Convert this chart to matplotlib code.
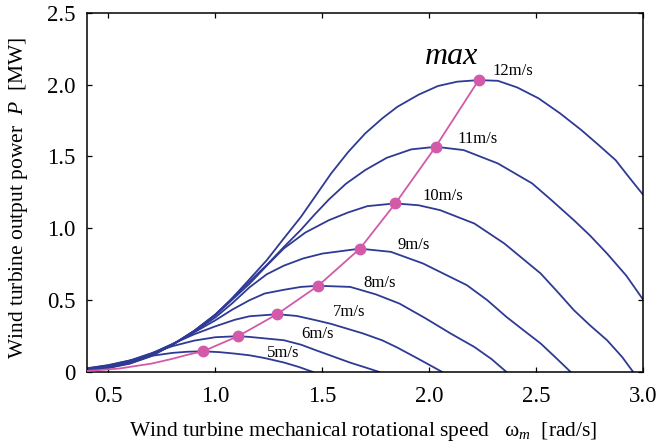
"""Wind turbine power curves P(omega_m) for 5-12 m/s with the max-power locus."""

import matplotlib

matplotlib.use("Agg")

import matplotlib.pyplot as plt

plt.rcParams["font.family"] = ["Liberation Serif", "DejaVu Serif"]
plt.rcParams["mathtext.fontset"] = "custom"
plt.rcParams["mathtext.rm"] = "Liberation Serif"
plt.rcParams["mathtext.it"] = "Liberation Serif:italic"

# values (omega_m in rad/s, P in MW)
omega_5 = [0.40, 0.50, 0.60, 0.70, 0.80, 0.87, 0.942, 1.02, 1.09, 1.16, 1.23, 1.32, 1.39, 1.456]
power_5 = [0.026, 0.048, 0.080, 0.112, 0.133, 0.141, 0.144, 0.138, 0.128, 0.116, 0.097, 0.066, 0.035, 0.0]

omega_6 = [0.40, 0.50, 0.60, 0.70, 0.80, 0.90, 1.00, 1.106, 1.16, 1.32, 1.40, 1.47, 1.55, 1.63, 1.70, 1.766]
power_6 = [0.024, 0.046, 0.080, 0.130, 0.180, 0.218, 0.242, 0.249, 0.244, 0.221, 0.190, 0.151, 0.108, 0.065, 0.032, 0.0]

omega_7 = [0.40, 0.50, 0.60, 0.70, 0.80, 0.90, 1.00, 1.09, 1.16, 1.29, 1.38, 1.47, 1.54, 1.69, 1.78, 1.85,
           1.95, 2.06]
power_7 = [0.022, 0.043, 0.076, 0.128, 0.195, 0.262, 0.318, 0.363, 0.388, 0.402, 0.390, 0.360, 0.335, 0.268,
           0.220, 0.170, 0.090, 0.0]

omega_8 = [0.40, 0.50, 0.60, 0.70, 0.80, 0.90, 1.00, 1.08, 1.16, 1.23, 1.32, 1.40, 1.48, 1.63, 1.75, 1.86,
           1.98, 2.10, 2.21, 2.29, 2.36]
power_8 = [0.020, 0.040, 0.072, 0.125, 0.195, 0.275, 0.360, 0.435, 0.500, 0.546, 0.572, 0.592, 0.600, 0.592,
           0.540, 0.476, 0.375, 0.267, 0.174, 0.090, 0.0]

omega_9 = [0.40, 0.50, 0.60, 0.70, 0.80, 0.90, 1.00, 1.08, 1.16, 1.24, 1.32, 1.41, 1.50, 1.675, 1.82, 1.97,
           2.05, 2.175, 2.27, 2.36, 2.44, 2.52, 2.59, 2.66]
power_9 = [0.018, 0.036, 0.068, 0.120, 0.190, 0.280, 0.380, 0.480, 0.590, 0.680, 0.740, 0.790, 0.824, 0.858,
           0.836, 0.755, 0.696, 0.604, 0.500, 0.383, 0.290, 0.198, 0.100, 0.0]

omega_10 = [0.40, 0.50, 0.60, 0.70, 0.80, 0.90, 1.00, 1.08, 1.16, 1.24, 1.32, 1.42, 1.53, 1.62, 1.71, 1.84,
            1.95, 2.05, 2.21, 2.35, 2.52, 2.60, 2.675, 2.75, 2.83, 2.90, 2.952]
power_10 = [0.016, 0.033, 0.064, 0.115, 0.190, 0.285, 0.395, 0.505, 0.615, 0.740, 0.860, 0.970, 1.056, 1.110,
            1.154, 1.173, 1.160, 1.126, 1.033, 0.894, 0.685, 0.555, 0.430, 0.325, 0.221, 0.105, 0.0]

omega_11 = [0.40, 0.50, 0.60, 0.70, 0.80, 0.90, 1.00, 1.08, 1.16, 1.24, 1.32, 1.40, 1.46, 1.53, 1.61, 1.70,
            1.80, 1.915, 2.03, 2.16, 2.32, 2.48, 2.57, 2.675, 2.75, 2.83, 2.92, 3.00]
power_11 = [0.014, 0.030, 0.060, 0.112, 0.190, 0.285, 0.400, 0.515, 0.630, 0.745, 0.870, 0.990, 1.090, 1.200,
            1.310, 1.405, 1.490, 1.549, 1.567, 1.544, 1.451, 1.312, 1.196, 1.056, 0.950, 0.824, 0.670, 0.500]

omega_12 = [0.40, 0.50, 0.60, 0.70, 0.80, 0.90, 1.00, 1.07, 1.15, 1.24, 1.32, 1.40, 1.47, 1.54, 1.62, 1.70,
            1.78, 1.85, 1.95, 2.04, 2.13, 2.23, 2.32, 2.41, 2.51, 2.61, 2.71, 2.79, 2.87, 2.93, 3.00]
power_12 = [0.012, 0.028, 0.058, 0.110, 0.190, 0.285, 0.400, 0.500, 0.630, 0.778, 0.930, 1.080, 1.230, 1.380,
            1.530, 1.660, 1.765, 1.845, 1.930, 1.990, 2.020, 2.031, 2.026, 1.980, 1.904, 1.800, 1.683, 1.580,
            1.474, 1.360, 1.230]

# max-power locus: lead-in from the left edge, then the peak of each curve
lead_omega = [0.40, 0.55, 0.70, 0.80, 0.87]
lead_power = [0.007, 0.024, 0.058, 0.092, 0.120]
peak_omega = [0.942, 1.106, 1.288, 1.48, 1.675, 1.841, 2.029, 2.23]
peak_power = [0.144, 0.249, 0.402, 0.600, 0.858, 1.173, 1.567, 2.031]

wind_labels = ["5m/s", "6m/s", "7m/s", "8m/s", "9m/s", "10m/s", "11m/s", "12m/s"]
label_omega = [1.318, 1.479, 1.624, 1.765, 1.926, 2.062, 2.224, 2.388]
label_power = [0.134, 0.266, 0.419, 0.618, 0.882, 1.223, 1.620, 2.094]

BLUE = "#2e3a93"
PINK = "#d25aa9"


def main():
    fig = plt.figure(figsize=(6.62, 4.47), dpi=100)
    ax = fig.add_axes([0.1314, 0.1678, 0.8406, 0.8038])

    curves = [
        (omega_5, power_5), (omega_6, power_6), (omega_7, power_7), (omega_8, power_8),
        (omega_9, power_9), (omega_10, power_10), (omega_11, power_11), (omega_12, power_12),
    ]
    for omega, power in curves:
        ax.plot(omega, power, color=BLUE, lw=1.3, solid_joinstyle="round", clip_on=True)

    locus_omega = lead_omega + peak_omega
    locus_power = lead_power + peak_power
    ax.plot(locus_omega, locus_power, color=PINK, lw=1.3, marker="o", ms=7.5,
            markevery=list(range(len(lead_omega), len(locus_omega))), zorder=3)

    for text, x, y in zip(wind_labels, label_omega, label_power):
        ax.text(x, y, text, fontsize=12, ha="center", va="center")
    ax.text(2.104, 2.198, "max", fontsize=23, style="italic", ha="center", va="center")

    ax.set_xlim(0.4, 3.0)
    ax.set_ylim(0.0, 2.5)
    ax.set_xticks([0.5, 1.0, 1.5, 2.0, 2.5, 3.0])
    ax.set_xticklabels(["0.5", "1.0", "1.5", "2.0", "2.5", "3.0"])
    ax.set_yticks([0.0, 0.5, 1.0, 1.5, 2.0, 2.5])
    ax.set_yticklabels(["0", "0.5", "1.0", "1.5", "2.0", "2.5"])
    ax.tick_params(direction="in", top=True, right=True, length=3.5, width=0.9, labelsize=16.5)
    ax.tick_params(axis="x", pad=10)
    ax.tick_params(axis="y", pad=8)
    for spine in ax.spines.values():
        spine.set_linewidth(1.1)

    fig.text(0.549, 0.034, r"Wind turbine mechanical rotational speed   $\mathrm{\omega}_{m}$  [rad/s]",
             fontsize=15.5, ha="center", va="center")
    fig.text(0.028, 0.558, r"Wind turbine output power  $P$  [MW]",
             fontsize=15.5, ha="center", va="center", rotation=90)

    fig.savefig("out.png", dpi=100)
    plt.close(fig)


if __name__ == "__main__":
    main()
